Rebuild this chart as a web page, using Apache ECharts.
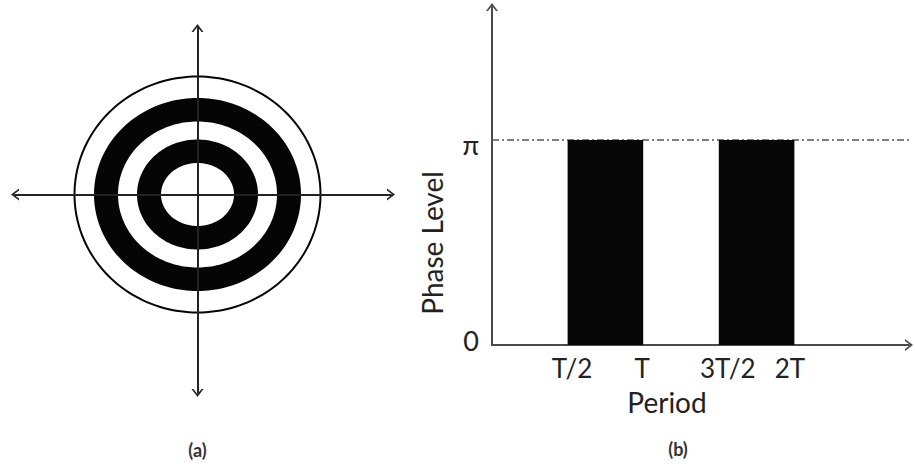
<!DOCTYPE html>
<html>
<head>
<meta charset="utf-8">
<script src="https://cdn.jsdelivr.net/npm/echarts@6/dist/echarts.min.js"></script>
<style>html,body{margin:0;padding:0;background:#fff}#c{width:915px;height:466px}</style>
</head>
<body>
<div id="c"></div>
<script>
// ---- Panel (a): concentric rings (drawing units) ----
const ringNames   = ['outer circle', 'outer band', 'inner band'];
const ringOuterRx = [124, 103.5, 60.5];
const ringOuterRy = [119, 96.5, 55];
const ringInnerRx = [122, 79.5, 36.5];
const ringInnerRy = [117, 73, 31.5];
const axisAxMin = -182.5, axisAxMax = 193.5;
const axisAyMin = -198.5, axisAyMax = 166.5;

// ---- Panel (b): phase level vs period (x in units of T, y in radians) ----
const barStart   = [0.5, 1.5];
const barEnd     = [1, 2];
const phaseLevel = [Math.PI, Math.PI];
const xTickValues = [0.5, 1, 1.5, 2];
const xTickLabels = ['T/2', 'T', '3T/2', '2T'];
const yTickValues = [0, Math.PI];
const yTickLabels = ['0', 'π'];
const refLevel = Math.PI;
const refLineX = [0, 2.8];
const axisBxMax = 2.758, axisByMax = 5.18;

const FONT = 'Lato, "Open Sans", "Noto Sans", sans-serif';
const TXT = '#222';
const arrowPath = 'path://M0,8 L6,0 L12,8 L10,8 L6,2.7 L2,8 Z';

function ellipsePts(cx, cy, rx, ry, reverse) {
  const n = 180, pts = [];
  for (let i = 0; i < n; i++) {
    let t = 2 * Math.PI * i / n;
    if (reverse) t = -t;
    pts.push((cx + rx * Math.cos(t)).toFixed(2) + ',' + (cy + ry * Math.sin(t)).toFixed(2));
  }
  return 'M' + pts.join(' L') + ' Z';
}

const ringData = ringNames.map((n, i) => [ringOuterRx[i], ringOuterRy[i], ringInnerRx[i], ringInnerRy[i]]);
const barData = barStart.map((s, i) => [s, barEnd[i], phaseLevel[i]]);

function rs(size, pad) { return {fontFamily: FONT, fontSize: size, color: TXT, padding: pad}; }

const chart = echarts.init(document.getElementById('c'), null, {renderer: 'svg'});
chart.setOption({
  backgroundColor: '#fff',
  animation: false,
  grid: [
    {left: 15, right: 524, top: 28, bottom: 73},
    {left: 492, right: 6, top: 7, bottom: 121}
  ],
  xAxis: [
    {
      gridIndex: 0, type: 'value', min: axisAxMin, max: axisAxMax, z: 10,
      axisLine: {onZero: true, lineStyle: {color: '#222', width: 2}, symbol: [arrowPath, arrowPath], symbolSize: [12, 8]},
      axisTick: {show: false}, axisLabel: {show: false}, splitLine: {show: false}
    },
    {
      gridIndex: 1, type: 'value', min: 0, max: axisBxMax,
      axisLine: {onZero: false, lineStyle: {color: '#4a4a4a', width: 2}, symbol: ['none', arrowPath], symbolSize: [12, 8]},
      axisTick: {show: false}, splitLine: {show: false},
      axisLabel: {
        customValues: xTickValues, margin: 10, color: TXT, fontFamily: FONT, fontSize: 26,
        formatter: v => { const i = xTickValues.indexOf(v); return i < 0 ? '' : '{l' + i + '|' + xTickLabels[i] + '}'; },
        rich: {
          l0: rs(26, [0, 0, 0, 9]),
          l1: rs(26, [0, 2, 0, 0]),
          l2: rs(26, [0, 0, 0, 18]),
          l3: rs(26, [0, 9, 0, 0])
        }
      },
      name: 'Period', nameLocation: 'middle', nameGap: 43,
      nameTextStyle: {fontFamily: FONT, fontSize: 28, color: TXT, padding: [0, 67, 0, 0]}
    }
  ],
  yAxis: [
    {
      gridIndex: 0, type: 'value', min: axisAyMin, max: axisAyMax, z: 10,
      axisLine: {onZero: true, lineStyle: {color: '#222', width: 2}, symbol: [arrowPath, arrowPath], symbolSize: [12, 8]},
      axisTick: {show: false}, axisLabel: {show: false}, splitLine: {show: false}
    },
    {
      gridIndex: 1, type: 'value', min: 0, max: axisByMax,
      axisLine: {onZero: false, lineStyle: {color: '#4a4a4a', width: 2}, symbol: ['none', arrowPath], symbolSize: [12, 8]},
      axisTick: {show: false}, splitLine: {show: false},
      axisLabel: {
        customValues: yTickValues, margin: 13, color: TXT, fontFamily: FONT, fontSize: 27,
        formatter: v => { const i = yTickValues.indexOf(v); return i < 0 ? '' : '{y' + i + '|' + yTickLabels[i] + '}'; },
        rich: {
          y0: rs(27, [0, 0, 10, 0]),
          y1: rs(27, [8, 0, 0, 0])
        }
      },
      name: 'Phase Level', nameLocation: 'middle', nameGap: 46,
      nameTextStyle: {fontFamily: FONT, fontSize: 28, color: TXT, padding: [0, 134, 0, 0]}
    }
  ],
  graphic: [
    {type: 'text', x: 197.5, y: 450, style: {text: '(a)', font: 'bold 18px ' + FONT, fill: '#333', align: 'center', verticalAlign: 'middle', textAlign: 'center', textVerticalAlign: 'middle'}},
    {type: 'text', x: 678, y: 449, style: {text: '(b)', font: 'bold 18px ' + FONT, fill: '#333', align: 'center', verticalAlign: 'middle', textAlign: 'center', textVerticalAlign: 'middle'}}
  ],
  series: [
    {
      type: 'custom', name: 'rings', xAxisIndex: 0, yAxisIndex: 0, z: 2,
      data: ringData,
      renderItem: function (params, api) {
        const c = api.coord([0, 0]);
        const oRx = api.size([api.value(0), 0])[0], oRy = api.size([0, api.value(1)])[1];
        const iRx = api.size([api.value(2), 0])[0], iRy = api.size([0, api.value(3)])[1];
        const d = ellipsePts(c[0], c[1], oRx, oRy, false) + ' ' + ellipsePts(c[0], c[1], iRx, iRy, true);
        return {
          type: 'path',
          shape: {pathData: d, x: c[0] - oRx, y: c[1] - oRy, width: 2 * oRx, height: 2 * oRy},
          style: {fill: '#050505', stroke: null}
        };
      }
    },
    {
      type: 'line', name: 'pi level', xAxisIndex: 1, yAxisIndex: 1, z: 1, clip: false,
      data: refLineX.map(x => [x, refLevel]), symbol: 'none', silent: true,
      lineStyle: {color: '#555', width: 1.5, type: [7, 3, 2, 3]}
    },
    {
      type: 'custom', name: 'phase', xAxisIndex: 1, yAxisIndex: 1, z: 3,
      data: barData,
      renderItem: function (params, api) {
        const p0 = api.coord([api.value(0), api.value(2)]);
        const p1 = api.coord([api.value(1), 0]);
        return {type: 'rect', shape: {x: p0[0], y: p0[1], width: p1[0] - p0[0], height: p1[1] - p0[1]}, style: {fill: '#070707'}};
      }
    }
  ]
});
</script>
</body>
</html>
